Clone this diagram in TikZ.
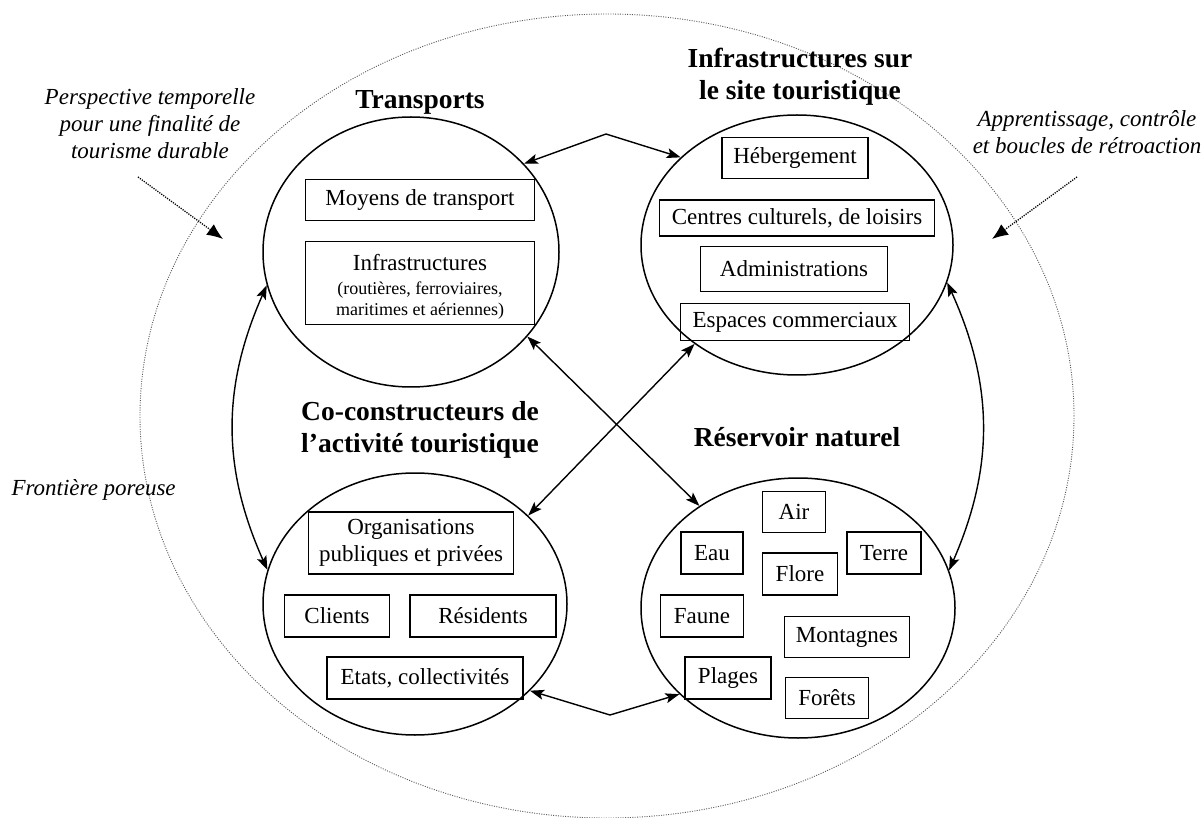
\documentclass[tikz,border=0pt]{standalone}
\usepackage{fontspec}
\setmainfont{Liberation Serif}
\usetikzlibrary{shapes.geometric,arrows.meta}
\begin{document}
\begin{tikzpicture}[x=1pt,y=-1pt,
  circ/.style={ellipse,draw,line width=1.5pt,inner sep=0pt},
  box/.style={draw,line width=1.2pt,inner sep=0pt,font=\fontsize{23}{27}\selectfont,align=center},
  ttl/.style={font=\fontsize{27.5}{32}\selectfont\bfseries,align=center},
  ann/.style={font=\fontsize{23}{27}\selectfont\itshape,align=center},
  link/.style={line width=1.4pt,{Stealth[length=14pt,width=10pt,inset=3pt]}-{Stealth[length=14pt,width=10pt,inset=3pt]}},
  hint/.style={dash pattern=on 1.2pt off 1.2pt,line width=1.3pt,-{Latex[length=16pt,width=13pt]}},
  porous/.style={ellipse,draw,dash pattern=on 1pt off 1.4pt,line width=0.9pt,black!65,inner sep=0pt}
]
\useasboundingbox (0,0) rectangle (1203,818);

% outer porous boundary
\node[porous,minimum width=934pt,minimum height=804pt] (outer) at (607,416) {};

% four systems
\node[circ,minimum width=296pt,minimum height=270pt] (T) at (411,252) {};
\node[circ,minimum width=312pt,minimum height=260pt] (I) at (797,245) {};
\node[circ,minimum width=304pt,minimum height=262pt] (C) at (415,604) {};
\node[circ,minimum width=314pt,minimum height=260pt] (R) at (798,608) {};

% titles
\node[ttl] (tT) at (420,102) {Transports};
\node[ttl] (tI) at (800,77) {Infrastructures sur\\le site touristique};
\node[ttl] (tC) at (420,430) {Co-constructeurs de\\l’activité touristique};
\node[ttl] (tR) at (797,437) {Réservoir naturel};

% annotations
\node[ann] (aL) at (150,124) {Perspective temporelle\\pour une finalité de\\tourisme durable};
\node[ann] (aR) at (1087,132) {Apprentissage, contrôle\\et boucles de rétroaction};
\node[ann,anchor=west] (aF) at (8,490) {Frontière poreuse};

% boxes: transports
\node[box,minimum width=229pt,minimum height=41pt] (b1) at (420,200) {Moyens de transport};
\node[box,minimum width=229pt,minimum height=83pt] (b2) at (420,283) {\begin{tabular}{@{}c@{}}\rule{0pt}{29pt}Infrastructures\\[-3pt]\fontsize{18}{21}\selectfont(routières, ferroviaires,\\[-6pt]\fontsize{18}{21}\selectfont maritimes et aériennes)\end{tabular}};

% boxes: infrastructures
\node[box,minimum width=146pt,minimum height=41pt] (h1) at (795,158) {Hébergement};
\node[box,minimum width=275pt,minimum height=36pt] (h2) at (797,218) {Centres culturels, de loisirs};
\node[box,minimum width=187pt,minimum height=45pt] (h3) at (794,269) {Administrations};
\node[box,minimum width=229pt,minimum height=37pt] (h4) at (795,322) {Espaces commerciaux};

% boxes: co-constructeurs
\node[box,minimum width=205pt,minimum height=62pt] (c1) at (411,543) {Organisations\\publiques et privées};
\node[box,minimum width=105pt,minimum height=42pt] (c2) at (337,616) {Clients};
\node[box,minimum width=146pt,minimum height=42pt] (c3) at (483,616) {Résidents};
\node[box,minimum width=196pt,minimum height=42pt] (c4) at (425,678) {Etats, collectivités};

% boxes: reservoir
\node[box,minimum width=63pt,minimum height=41pt] (r1) at (794,512) {Air};
\node[box,minimum width=62pt,minimum height=42pt] (r2) at (712,553) {Eau};
\node[box,minimum width=74pt,minimum height=42pt] (r3) at (884,553) {Terre};
\node[box,minimum width=75pt,minimum height=42pt] (r4) at (800,574) {Flore};
\node[box,minimum width=83pt,minimum height=42pt] (r5) at (702,616) {Faune};
\node[box,minimum width=125pt,minimum height=41pt] (r6) at (847,637) {Montagnes};
\node[box,minimum width=86pt,minimum height=42pt] (r7) at (728,678) {Plages};
\node[box,minimum width=83pt,minimum height=41pt] (r8) at (827,698) {Forêts};

% links
\coordinate (tp) at (606,134);
\coordinate (bt) at (610,715);
\draw[link] (T.38) -- (tp) -- (I.143);
\draw[link] (C.-37) -- (bt) -- (R.216);
\draw[link] (T.193) to[bend right=24] (C.167);
\draw[link] (I.-14) to[bend left=24] (R.14);
\draw[link] (T.-36) -- (R.134);
\draw[link] (I.224) -- (C.38);

% dotted hints
\coordinate (hL0) at (138,177);
\coordinate (hL1) at (223,239);
\coordinate (hR0) at (1077,177);
\coordinate (hR1) at (992,239);
\draw[hint] (hL0) -- (hL1);
\draw[hint] (hR0) -- (hR1);
\end{tikzpicture}
\end{document}
